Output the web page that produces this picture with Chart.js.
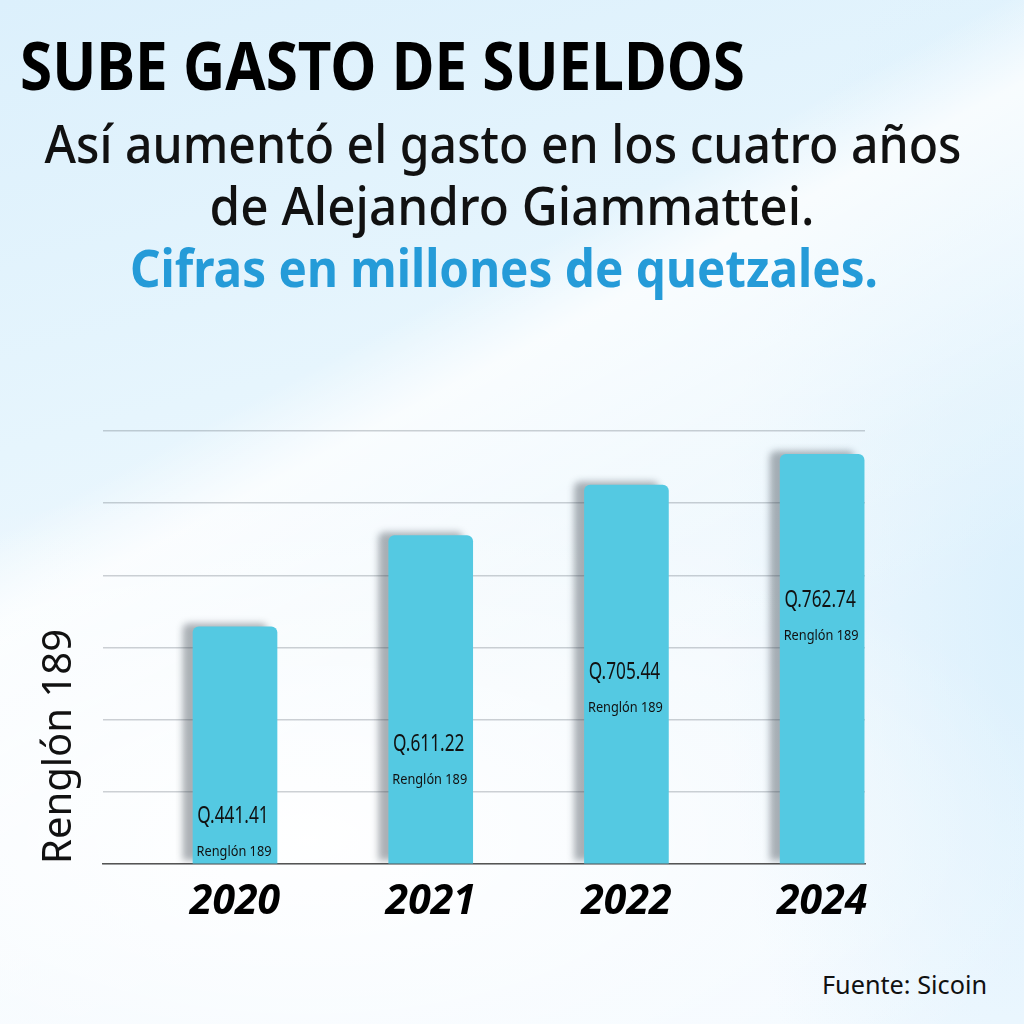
<!DOCTYPE html>
<html>
<head>
<meta charset="utf-8">
<script src="https://cdn.jsdelivr.net/npm/chart.js@4"></script>
<style>
    html, body { margin: 0; padding: 0; }
    body {
        width: 1024px; height: 1024px; position: relative; overflow: hidden;
        font-family: "Noto Sans", "Open Sans", sans-serif;
        background:
            radial-gradient(ellipse 760px 360px at 30% 82%, rgba(255,255,255,0.97), rgba(255,255,255,0) 100%),
            linear-gradient(152deg, rgba(255,255,255,0) 34%, rgba(255,255,255,0.75) 40%, rgba(255,255,255,0.2) 58%, rgba(255,255,255,0) 70%),
            radial-gradient(ellipse 300px 700px at 100% 60%, rgba(214,238,252,0.8), rgba(214,238,252,0) 100%),
            linear-gradient(165deg, #dcf0fc 0%, #e6f5fd 35%, #f2f9fe 65%, #f4faff 100%);
    }
    .txt { position: absolute; white-space: nowrap; line-height: 1; display: inline-block; }
    #title { left: 20px; top: 31px; font-size: 66px; font-weight: 700; color: #000; transform-origin: left center; }
    .sub { font-size: 52px; font-weight: 500; color: #111; transform-origin: center center; }
    #sub1 { left: 503px; top: 117px; }
    #sub2 { left: 512px; top: 179px; }
    #sub3 { left: 504px; top: 241px; font-weight: 700; color: #259bd8; }
    #source { left: 987px; top: 971px; font-size: 26px; color: #111; transform-origin: right center; }
    #myChart { position: absolute; left: 0; top: 0; }
</style>
</head>
<body>
<div id="title" class="txt" data-w="725" data-align="left">SUBE GASTO DE SUELDOS</div>
<div id="sub1" class="txt sub" data-w="917" data-align="center">Así aumentó el gasto en los cuatro años</div>
<div id="sub2" class="txt sub" data-w="605" data-align="center">de Alejandro Giammattei.</div>
<div id="sub3" class="txt sub" data-w="748" data-align="center">Cifras en millones de quetzales.</div>
<div id="source" class="txt" data-w="165" data-align="right">Fuente: Sicoin</div>
<canvas id="myChart" width="1024" height="1024"></canvas>
<script>
// data
const years = ["2020", "2021", "2022", "2024"]
const amounts = [441.41, 611.22, 705.44, 762.74]
const seriesName = "Renglón 189"
const yMax = 806
const gridSteps = 6

function main() {
    fitAllText()
    buildChart("myChart")
}

// functions
function fitAllText() {
    for (let el of document.querySelectorAll(".txt")) {
        const natural = el.getBoundingClientRect().width
        const s = Number(el.dataset.w) / natural
        if (el.dataset.align === "center") {
            el.style.transform = `translateX(-50%) scaleX(${s})`
        } else if (el.dataset.align === "right") {
            el.style.transform = `translateX(-100%) scaleX(${s})`
        } else {
            el.style.transform = `scaleX(${s})`
        }
    }
}

// narrow text, drawn centred on x
function narrowText(c, text, x, y, sx) {
    c.save()
    c.translate(x, y)
    c.scale(sx, 1)
    c.fillText(text, 0, 0)
    c.restore()
}

const barShadow = {
    id: "barShadow",
    beforeDatasetsDraw(chart) {
        const c = chart.ctx
        c.save()
        c.shadowColor = "rgba(40,50,60,0.38)"
        c.shadowBlur = 7
        c.shadowOffsetX = -10
        c.shadowOffsetY = -3
    },
    afterDatasetsDraw(chart) {
        chart.ctx.restore()
    }
}

const barLabels = {
    id: "barLabels",
    afterDatasetsDraw(chart) {
        const c = chart.ctx
        const yScale = chart.scales.y
        const bars = chart.getDatasetMeta(0).data
        c.save()
        c.fillStyle = "#111"
        c.textAlign = "center"
        c.textBaseline = "middle"
        bars.forEach((bar, i) => {
            const gy = yScale.getPixelForValue(yMax * (i + 1) / gridSteps)
            c.font = '23px "Noto Sans", sans-serif'
            narrowText(c, "Q." + amounts[i].toFixed(2), bar.x - 2, gy + 25, 0.75)
            c.font = '15px "Noto Sans", sans-serif'
            narrowText(c, seriesName, bar.x - 1, gy + 60, 0.85)
        })
        c.restore()
    }
}

function buildChart(canvasId) {
    const ctx = document.getElementById(canvasId)

    new Chart(ctx, {
        type: "bar",
        data: {
            datasets: [{
                label: seriesName,
                data: amounts.map((v, i) => ({ x: i, y: v })),
                backgroundColor: "#54c9e2",
                borderRadius: 6,
                borderSkipped: "bottom",
                barThickness: 84
            }]
        },
        options: {
            responsive: false,
            animation: false,
            layout: { padding: { left: 0, top: 431, right: 159, bottom: 100 } },
            plugins: { legend: { display: false }, tooltip: { enabled: false } },
            scales: {
                x: {
                    type: "linear",
                    min: -0.6745,
                    max: 3.219,
                    offset: false,
                    z: 1,
                    afterBuildTicks: (s) => { s.ticks = years.map((y, i) => ({ value: i })) },
                    afterFit: (s) => { s.height = 60 },
                    grid: { display: false, offset: false },
                    border: { display: true, color: "#555", width: 1.5 },
                    ticks: {
                        padding: 6,
                        color: "#000",
                        font: { family: "Noto Sans", size: 41, weight: "bold", style: "italic" },
                        callback: (v) => years[v]
                    }
                },
                y: {
                    min: 0,
                    max: yMax,
                    z: 1,
                    afterBuildTicks: (s) => {
                        s.ticks = []
                        for (let i = 0; i <= gridSteps; i++) s.ticks.push({ value: yMax * i / gridSteps })
                    },
                    afterFit: (s) => { s.width = 103 },
                    grid: { color: "rgba(80,90,100,0.28)", lineWidth: 1.5, drawTicks: false },
                    border: { display: false },
                    ticks: { display: false },
                    title: {
                        display: true,
                        text: seriesName,
                        align: "start",
                        color: "#111",
                        padding: { top: 36, bottom: 0 },
                        font: { family: "Noto Sans", size: 40 }
                    }
                }
            }
        },
        plugins: [barShadow, barLabels]
    })
}

// listeners
document.addEventListener("DOMContentLoaded", main)
</script>
</body>
</html>
